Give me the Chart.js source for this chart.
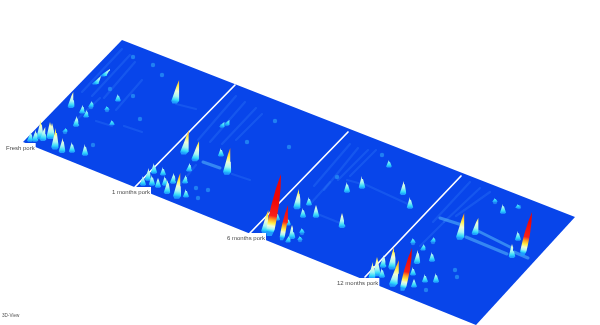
<!DOCTYPE html>
<html>
<head>
<meta charset="utf-8">
<style>
html, body { margin: 0; padding: 0; background: #fff; overflow: hidden; }
#chart { display: block; filter: blur(0.5px); }
</style>
<script src="https://cdn.jsdelivr.net/npm/chart.js@4"></script>
</head>
<body>
<canvas id="chart" width="600" height="325"></canvas>
<script>
// outline of the whole plate, clockwise from the back corner
const plateX = [122, 575, 476, 23];
const plateY = [40, 217, 325, 142];

// white lines between the four samples: [backX, backY, frontX, frontY]
const dividers = [
    [235, 85, 135, 187],
    [348, 132, 250, 233],
    [461, 176, 365, 277]
];

// sample names and where they sit: x is left end, y is middle
const sampleNames = ["Fresh pork", "1 months pork", "6 months pork", "12 months pork"];
const sampleNameX = [6, 112, 227, 337];
const sampleNameY = [148, 192, 238, 283];

// long faint ridges: [x1, y1, x2, y2]
const ridges = [
    [82, 92, 122, 49], [92, 96, 130, 55], [104, 98, 135, 62], [116, 110, 142, 80], [74, 122, 100, 98],
    [176, 104, 196, 109], [96, 121, 112, 126], [124, 126, 142, 132],
    [198, 140, 236, 96], [210, 142, 245, 102], [222, 144, 256, 108], [236, 140, 262, 114],
    [232, 174, 250, 180], [196, 165, 178, 187],
    [314, 186, 350, 144], [324, 190, 358, 148], [338, 180, 368, 150], [350, 176, 376, 150],
    [362, 183, 410, 205], [320, 215, 340, 223], [347, 180, 362, 184], [312, 202, 330, 182],
    [433, 222, 470, 182], [444, 222, 480, 188], [420, 246, 444, 222], [456, 216, 490, 192]
];

// thicker pale tails behind the big peaks
const tails = [
    [478, 231, 512, 248],
    [466, 237, 507, 254],
    [440, 218, 462, 225],
    [514, 252, 528, 258],
    [203, 162, 220, 168]
];

// small round spots on the plate
const spotX = [133, 153, 162, 110, 133, 140, 93, 65, 91, 107, 289, 275, 247, 208, 196, 198, 227, 222, 337, 382, 300, 302, 426, 457, 495, 433, 413, 455, 519];
const spotY = [57, 65, 75, 89, 96, 119, 145, 132, 107, 110, 147, 121, 142, 190, 188, 198, 124, 126, 177, 155, 240, 233, 290, 277, 202, 242, 243, 270, 207];

// peaks as [baseX, baseY, tipX, tipY], back to front in each sample
const freshPeaks = [
    [103, 76, 110, 69], [95, 84, 101, 76], [118, 101, 118, 94], [71, 107, 73, 92], [175, 102, 179, 80],
    [91, 107, 92, 101], [82, 113, 83, 105], [86, 117, 87, 110], [107, 110, 107, 106], [112, 125, 112, 120],
    [76, 126, 77, 116], [65, 132, 66, 128], [50, 138, 50, 122], [40, 138, 41, 120], [43, 140, 45, 127],
    [52, 138, 52, 123], [30, 141, 31, 132], [35, 141, 36, 130], [55, 148, 56, 128], [62, 152, 63, 138],
    [72, 152, 72, 142], [85, 155, 85, 144]
];
const oneMonthPeaks = [
    [222, 127, 224, 122], [227, 125, 229, 120], [221, 156, 221, 148], [184, 153, 189, 130], [195, 160, 199, 141],
    [227, 173, 230, 148], [189, 171, 190, 163], [154, 173, 154, 163], [163, 175, 163, 167], [185, 183, 186, 175],
    [148, 180, 149, 168], [173, 183, 174, 173], [143, 185, 143, 176], [152, 185, 152, 175], [158, 187, 158, 178],
    [165, 185, 165, 176], [167, 193, 168, 180], [177, 197, 180, 173], [186, 197, 186, 189]
];
const sixMonthPeaks = [
    [389, 167, 389, 160], [362, 188, 362, 176], [347, 192, 347, 182], [403, 194, 404, 181], [410, 208, 410, 197],
    [297, 208, 299, 189], [309, 205, 309, 197], [316, 217, 316, 205], [303, 217, 303, 208], [342, 227, 342, 213],
    [277, 220, 277, 212], [265, 232, 268, 210], [288, 225, 288, 218], [270, 232, 281, 174], [300, 240, 300, 236],
    [302, 233, 302, 228], [282, 238, 288, 205], [292, 238, 292, 225], [288, 242, 289, 236]
];
const twelveMonthPeaks = [
    [495, 202, 495, 198], [518, 208, 518, 204], [503, 213, 503, 204], [475, 234, 478, 218], [460, 238, 464, 213],
    [518, 240, 518, 231], [423, 250, 424, 244], [413, 243, 413, 238], [433, 242, 434, 237], [512, 257, 512, 244],
    [523, 253, 532, 212], [432, 261, 432, 252], [417, 263, 418, 250], [383, 267, 384, 255], [392, 268, 394, 247],
    [377, 275, 377, 257], [372, 278, 373, 262], [413, 275, 413, 267], [382, 277, 382, 268], [425, 282, 425, 274],
    [436, 282, 436, 273], [393, 285, 399, 260], [414, 287, 414, 279], [403, 288, 412, 248]
];

// colour by height above the plate, tall peaks squeeze these (see peakSet)
const heightStops = [
    [0, "#1f9cff"], [2, "#2fd8fc"], [6, "#a8f6f4"], [11, "#eefcd8"],
    [16, "#fff250"], [23, "#ffa020"], [30, "#f8201a"], [60, "#ee0505"]
];

function pointsFrom(xs, ys) {
    return xs.map(function(x, i) { return { x: x, y: ys[i] }; });
}

function strokeSet(row, color, width) {
    return {
        data: [{ x: row[0], y: row[1] }, { x: row[2], y: row[3] }],
        showLine: true,
        borderColor: color,
        borderWidth: width,
        borderCapStyle: "round",
        pointRadius: 0
    };
}

// spike outlines around the base-tip line
const spikeAlong = [-0.07, 0.04, 0.18, 0.45, 0.75, 1];
const spikeSide = [0.6, 1.05, 0.9, 0.62, 0.32, 0];
const tallSide = [0.6, 1, 1, 0.92, 0.55, 0];

function peakSet(row) {
    const bx = row[0], by = row[1], tx = row[2], ty = row[3];
    const h = Math.sqrt((tx - bx) * (tx - bx) + (ty - by) * (ty - by));
    const tall = h > 30;
    const half = tall ? Math.min(4.2, h * 0.075) : 2.4 + h * 0.06;
    const side = tall ? tallSide : spikeSide;
    const squeeze = tall ? 0.55 : 1;
    const right = spikeAlong.map(function(a, i) {
        return { x: bx + (tx - bx) * a + half * side[i], y: by + (ty - by) * a };
    });
    const left = spikeAlong.map(function(a, i) {
        return { x: bx + (tx - bx) * a - half * side[i], y: by + (ty - by) * a };
    }).reverse().slice(1);
    return {
        data: right.concat(left),
        showLine: true,
        fill: "shape",
        borderWidth: 0,
        borderColor: "transparent",
        pointRadius: 0,
        backgroundColor: function(ctx) {
            const chart = ctx.chart;
            if (!chart.chartArea) return "#25c8fb";
            const x0 = chart.scales.x.getPixelForValue(bx), y0 = chart.scales.y.getPixelForValue(by);
            const x1 = chart.scales.x.getPixelForValue(tx), y1 = chart.scales.y.getPixelForValue(ty);
            const top = 60 * squeeze / h;
            const g = chart.ctx.createLinearGradient(x0, y0, x0 + (x1 - x0) * top, y0 + (y1 - y0) * top);
            heightStops.forEach(function(s) { g.addColorStop(s[0] / 60, s[1]); });
            return g;
        }
    };
}

const sets = [];
sets.push({
    data: pointsFrom(plateX, plateY),
    showLine: true,
    fill: "shape",
    backgroundColor: "#0845ea",
    borderWidth: 0,
    borderColor: "transparent",
    pointRadius: 0
});
ridges.forEach(function(r) { sets.push(strokeSet(r, "rgba(70,150,255,0.22)", 2.2)); });
tails.forEach(function(r) { sets.push(strokeSet(r, "rgba(90,190,250,0.55)", 3)); });
dividers.forEach(function(r) { sets.push(strokeSet(r, "#ffffff", 1.7)); });
sets.push({
    data: pointsFrom(spotX, spotY),
    pointRadius: 2.2,
    pointBorderWidth: 0,
    pointBackgroundColor: "#2080f2"
});
[freshPeaks, oneMonthPeaks, sixMonthPeaks, twelveMonthPeaks].forEach(function(peaks) {
    peaks.forEach(function(p) { sets.push(peakSet(p)); });
});

// names of the samples and the view caption
const namePlugin = {
    id: "sample_names",
    afterDatasetsDraw: function(chart) {
        const c = chart.ctx;
        c.save();
        c.font = "6px 'Liberation Sans'";
        c.textBaseline = "middle";
        sampleNames.forEach(function(name, i) {
            const x = chart.scales.x.getPixelForValue(sampleNameX[i]);
            const y = chart.scales.y.getPixelForValue(sampleNameY[i]);
            const w = c.measureText(name).width;
            c.fillStyle = "#ffffff";
            c.fillRect(x - 1, y - 5, w + 2, 10);
            c.fillStyle = "#4a4a4a";
            c.fillText(name, x, y);
        });
        c.font = "4.6px 'Liberation Sans'";
        c.fillStyle = "#555555";
        c.fillText("3D-View", 2, 316);
        c.restore();
    }
};

// chart.js draws the first dataset last, so flip them
new Chart(document.getElementById("chart"), {
    type: "scatter",
    data: { datasets: sets.reverse() },
    options: {
        responsive: false,
        animation: false,
        layout: { padding: 0, autoPadding: false },
        plugins: { legend: { display: false }, tooltip: { enabled: false } },
        scales: {
            x: { type: "linear", min: 0, max: 600, display: false },
            y: { type: "linear", min: 0, max: 325, reverse: true, display: false }
        }
    },
    plugins: [namePlugin]
});
</script>
</body>
</html>
